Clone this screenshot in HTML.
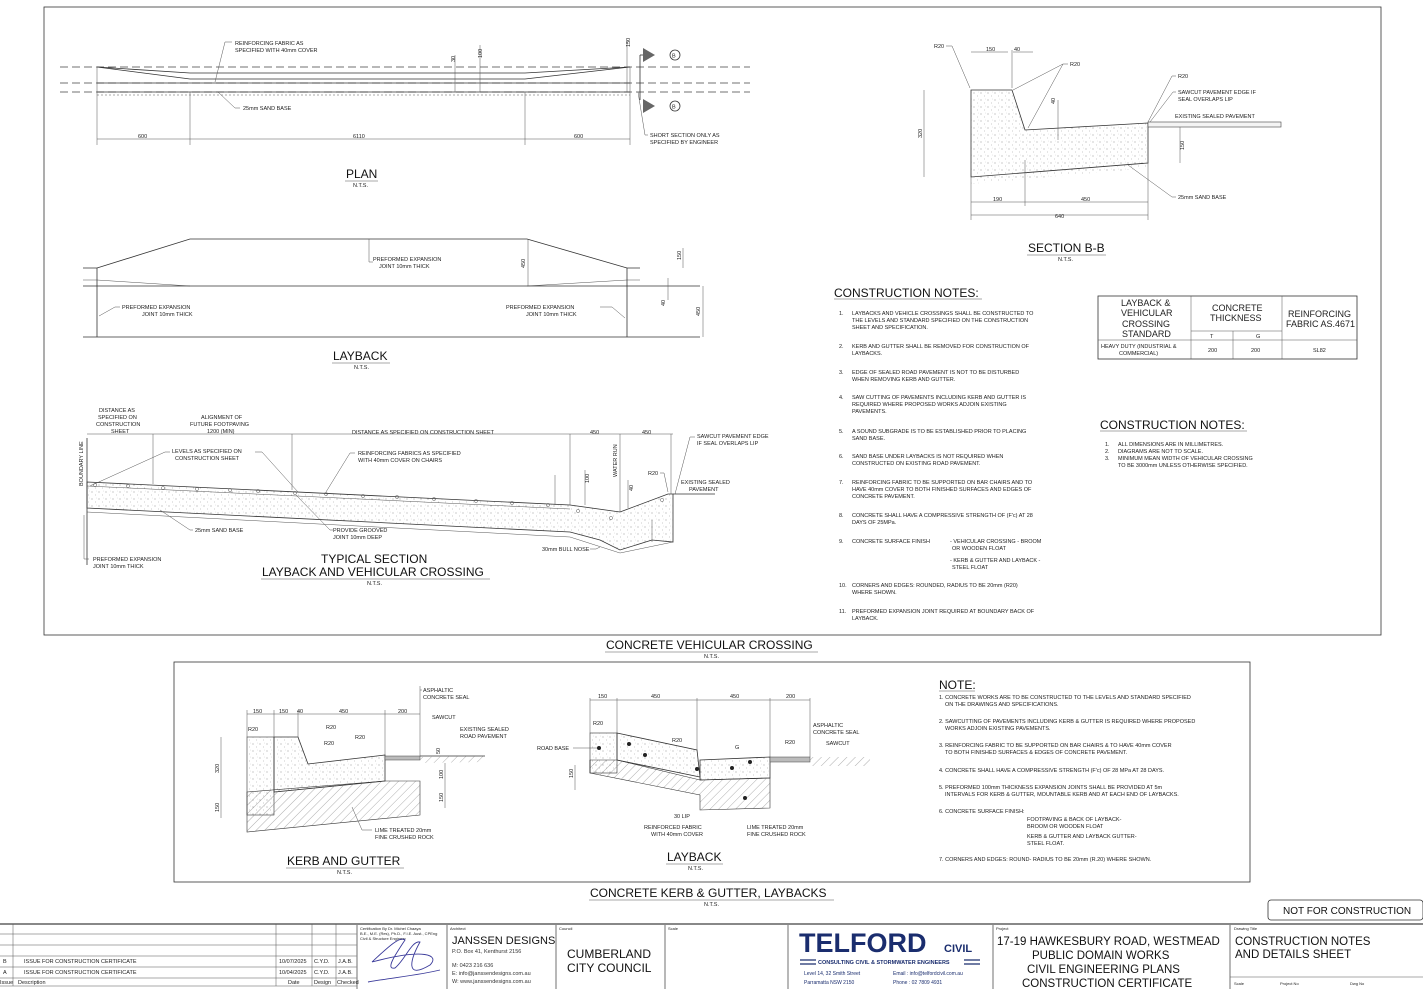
<!DOCTYPE html>
<html><head><meta charset="utf-8"><style>
html,body{margin:0;padding:0;background:#fff;}
svg{display:block;font-family:"Liberation Sans",sans-serif;}
.t{font-size:6px;fill:#222}
.s{font-size:5.5px;fill:#222}
.h{font-size:12px;fill:#111}
.ln{stroke:#333;stroke-width:0.8;fill:none}
.tn{stroke:#555;stroke-width:0.5;fill:none}
.dash{stroke:#444;stroke-width:0.8;stroke-dasharray:8 4;fill:none}
</style></head><body>
<svg width="1423" height="989" viewBox="0 0 1423 989" xmlns="http://www.w3.org/2000/svg">
<defs>
<pattern id="dots" width="7" height="7" patternUnits="userSpaceOnUse"><circle cx="1" cy="2" r="0.5" fill="#777"/><circle cx="4.5" cy="5" r="0.4" fill="#888"/><circle cx="5.5" cy="1" r="0.3" fill="#999"/></pattern>
<pattern id="hatch" width="6" height="6" patternUnits="userSpaceOnUse" patternTransform="rotate(45)"><line x1="0" y1="0" x2="0" y2="6" stroke="#777" stroke-width="0.6"/></pattern>
</defs>
<rect width="1423" height="989" fill="#fff"/>
<!-- frames -->
<rect x="44" y="7" width="1337" height="628" class="ln"/>
<rect x="174" y="662" width="1076" height="220" class="ln"/>

<!-- PLAN -->
<g>
<line x1="60" y1="67" x2="750" y2="67" class="dash"/>
<line x1="60" y1="83" x2="750" y2="83" class="dash"/>
<line x1="60" y1="92" x2="750" y2="92" class="dash"/>
<polyline points="97,67 190,73 525,73 630,67" class="ln"/>
<polyline points="97,67 190,79 525,79 630,67" class="ln"/>
<line x1="97" y1="83" x2="630" y2="83" class="ln"/>
<line x1="97" y1="92" x2="630" y2="92" class="ln"/>
<line x1="97" y1="95" x2="630" y2="95" class="tn" stroke-dasharray="2 2"/>
<line x1="97" y1="67" x2="97" y2="145" class="tn"/>
<line x1="190" y1="92" x2="190" y2="145" class="tn"/>
<line x1="525" y1="92" x2="525" y2="145" class="tn"/>
<line x1="630" y1="67" x2="630" y2="145" class="tn"/>
<line x1="97" y1="139" x2="630" y2="139" class="tn"/>
<text x="138" y="138" class="s">600</text><text x="353" y="138" class="s">6110</text><text x="574" y="138" class="s">600</text>
<line x1="455" y1="55" x2="455" y2="92" class="tn"/><line x1="480" y1="45" x2="480" y2="92" class="tn"/>
<text x="455" y="62" class="s" transform="rotate(-90 455 62)">30</text>
<text x="482" y="58" class="s" transform="rotate(-90 482 58)">100</text>
<line x1="627" y1="40" x2="627" y2="92" class="tn"/><text x="630" y="47" class="s" transform="rotate(-90 630 47)">150</text>
<polyline points="640,55 640,100" class="ln"/>
<path d="M643,48 L655,55 L643,62Z" fill="#666"/><line x1="640" y1="55" x2="643" y2="55" class="ln"/>
<path d="M643,99 L655,106 L643,113Z" fill="#666"/>
<circle cx="675" cy="55" r="5" class="ln"/><text x="672" y="57.5" class="s">B</text>
<circle cx="675" cy="106" r="5" class="ln"/><text x="672" y="108.5" class="s">B</text>
<polyline points="215,82 225,42 232,42" class="tn"/>
<text x="235" y="45" class="s">REINFORCING FABRIC AS</text><text x="235" y="52" class="s">SPECIFIED WITH 40mm COVER</text>
<polyline points="218,92 235,108 240,108" class="tn"/><text x="243" y="110" class="s">25mm SAND BASE</text>
<polyline points="638,92 645,135 648,135" class="tn"/>
<text x="650" y="137" class="s">SHORT SECTION ONLY AS</text><text x="650" y="144" class="s">SPECIFIED BY ENGINEER</text>
<text x="346" y="178" class="h">PLAN</text><line x1="345" y1="181" x2="378" y2="181" class="tn"/>
<text x="353" y="187" class="s">N.T.S.</text>
</g>

<!-- LAYBACK -->
<g>
<polyline points="83,268 97,268 190,239 527,239 627,268 640,268" class="ln"/>
<polyline points="83,280 97,280 190,286" class="tn"/><polyline points="527,286 627,280 640,280" class="tn"/>
<line x1="83" y1="286" x2="700" y2="286" class="ln"/>
<line x1="83" y1="337" x2="700" y2="337" class="ln"/>
<line x1="97" y1="268" x2="97" y2="337" class="ln"/><line x1="627" y1="268" x2="627" y2="337" class="ln"/>
<line x1="528" y1="239" x2="528" y2="286" class="tn"/><text x="525" y="268" class="s" transform="rotate(-90 525 268)">450</text>
<line x1="683" y1="248" x2="683" y2="268" class="tn"/><text x="681" y="260" class="s" transform="rotate(-90 681 260)">150</text>
<line x1="668" y1="278" x2="668" y2="300" class="tn"/><text x="665" y="306" class="s" transform="rotate(-90 665 306)">40</text>
<line x1="703" y1="286" x2="703" y2="337" class="tn"/><text x="700" y="316" class="s" transform="rotate(-90 700 316)">450</text>
<polyline points="369,239 369,262 373,262" class="tn"/>
<text x="373" y="261" class="s">PREFORMED EXPANSION</text><text x="379" y="268" class="s">JOINT 10mm THICK</text>
<polyline points="99,316 115,307 120,307" class="tn"/>
<text x="122" y="309" class="s">PREFORMED EXPANSION</text><text x="142" y="316" class="s">JOINT 10mm THICK</text>
<polyline points="625,318 612,307 600,307" class="tn"/>
<text x="506" y="309" class="s">PREFORMED EXPANSION</text><text x="526" y="316" class="s">JOINT 10mm THICK</text>
<text x="333" y="360" class="h">LAYBACK</text><line x1="332" y1="363" x2="390" y2="363" class="tn"/>
<text x="354" y="369" class="s">N.T.S.</text>
</g>

<!-- TYPICAL SECTION -->
<g>
<path d="M87,482 L570,505 L620,512 L668,494 L673,494 L673,542 L652,540 L620,550 L600,540 L570,532 L87,508Z" fill="url(#dots)" stroke="#333" stroke-width="0.8"/>
<polyline points="87,486 570,509" class="tn"/>
<polyline points="87,512 570,537 620,553 673,542" class="tn"/>
<line x1="87" y1="438" x2="87" y2="565" class="ln"/>
<text x="83" y="486" class="s" transform="rotate(-90 83 486)">BOUNDARY LINE</text>
<line x1="87" y1="434" x2="673" y2="434" class="tn"/>
<line x1="153" y1="434" x2="153" y2="484" class="tn"/><line x1="292" y1="434" x2="292" y2="490" class="tn"/>
<line x1="570" y1="434" x2="570" y2="505" class="tn"/><line x1="620" y1="434" x2="620" y2="512" class="tn"/><line x1="671" y1="434" x2="671" y2="494" class="tn"/>
<text x="99" y="412" class="s">DISTANCE AS</text><text x="98" y="419" class="s">SPECIFIED ON</text><text x="96" y="426" class="s">CONSTRUCTION</text><text x="111" y="433" class="s">SHEET</text>
<text x="201" y="419" class="s">ALIGNMENT OF</text><text x="190" y="426" class="s">FUTURE FOOTPAVING</text><text x="207" y="433" class="s">1200 (MIN)</text>
<text x="352" y="434" class="s">DISTANCE AS SPECIFIED ON CONSTRUCTION SHEET</text>
<text x="590" y="434" class="s">450</text><text x="642" y="434" class="s">450</text>
<text x="617" y="477" class="s" transform="rotate(-90 617 477)">WATER RUN</text>
<polyline points="90,486 165,452 170,452" class="tn"/><text x="172" y="453" class="s">LEVELS AS SPECIFIED ON</text><text x="175" y="460" class="s">CONSTRUCTION SHEET</text>
<polyline points="255,452 262,452 298,492" class="tn"/>
<polyline points="326,492 350,453 355,453" class="tn"/><text x="358" y="455" class="s">REINFORCING FABRICS AS SPECIFIED</text><text x="358" y="462" class="s">WITH 40mm COVER ON CHAIRS</text>
<polyline points="160,510 190,530 193,530" class="tn"/><text x="195" y="532" class="s">25mm SAND BASE</text>
<polyline points="296,495 330,530 333,530" class="tn"/><text x="333" y="532" class="s">PROVIDE GROOVED</text><text x="333" y="539" class="s">JOINT 10mm DEEP</text>
<polyline points="84,515 84,559 89,559" class="tn"/><text x="93" y="561" class="s">PREFORMED EXPANSION</text><text x="93" y="568" class="s">JOINT 10mm THICK</text>
<polyline points="600,547 596,549 590,549" class="tn"/><text x="542" y="551" class="s">30mm BULL NOSE</text>
<polyline points="675,494 690,437 695,437" class="tn"/><text x="697" y="438" class="s">SAWCUT PAVEMENT EDGE</text><text x="697" y="445" class="s">IF SEAL OVERLAPS LIP</text>
<text x="648" y="475" class="s">R20</text><polyline points="660,473 664,473 668,492" class="tn"/>
<text x="681" y="484" class="s">EXISTING SEALED</text><text x="689" y="491" class="s">PAVEMENT</text>
<line x1="673" y1="494" x2="715" y2="494" class="ln"/>
<line x1="555" y1="475" x2="555" y2="505" class="tn"/><line x1="585" y1="470" x2="585" y2="505" class="tn"/><line x1="628" y1="480" x2="628" y2="508" class="tn"/><line x1="652" y1="520" x2="652" y2="542" class="tn"/>
<text x="589" y="483" class="s" transform="rotate(-90 589 483)">100</text><text x="633" y="491" class="s" transform="rotate(-90 633 491)">40</text>
<g fill="none" stroke="#555" stroke-width="0.5">
<circle cx="95" cy="485" r="1.6"/><circle cx="128" cy="486" r="1.6"/><circle cx="163" cy="488" r="1.6"/><circle cx="197" cy="489" r="1.6"/><circle cx="230" cy="490" r="1.6"/><circle cx="258" cy="491" r="1.6"/><circle cx="295" cy="493" r="1.6"/><circle cx="326" cy="494" r="1.6"/><circle cx="363" cy="496" r="1.6"/><circle cx="397" cy="497" r="1.6"/><circle cx="434" cy="499" r="1.6"/><circle cx="476" cy="501" r="1.6"/><circle cx="512" cy="503" r="1.6"/><circle cx="548" cy="505" r="1.6"/><circle cx="578" cy="511" r="1.6"/><circle cx="611" cy="518" r="1.6"/><circle cx="662" cy="500" r="1.6"/>
</g>
<text x="321" y="563" class="h">TYPICAL SECTION</text>
<text x="262" y="576" class="h">LAYBACK AND VEHICULAR CROSSING</text><line x1="261" y1="579" x2="490" y2="579" class="tn"/>
<text x="367" y="585" class="s">N.T.S.</text>
</g>

<!-- SECTION B-B -->
<g>
<path d="M971,90 L1012,90 L1025,130 L1148,123 L1148,163 L971,177Z" fill="url(#dots)" stroke="#333" stroke-width="0.8"/>
<path d="M971,177 L1148,163 L1148,168 L971,184Z" fill="url(#dots)" stroke="none"/>
<rect x="1148" y="122" width="133" height="5" fill="#f4f4f4" stroke="#444" stroke-width="0.6"/>
<line x1="971" y1="173" x2="971" y2="220" class="tn"/><line x1="1025" y1="160" x2="1025" y2="206" class="tn"/><line x1="1148" y1="163" x2="1148" y2="220" class="tn"/>
<line x1="971" y1="202" x2="1148" y2="202" class="tn"/><line x1="971" y1="215" x2="1148" y2="215" class="tn"/>
<text x="993" y="201" class="s">190</text><text x="1081" y="201" class="s">450</text><text x="1055" y="218" class="s">640</text>
<line x1="971" y1="52" x2="1008" y2="52" class="tn"/><line x1="1013" y1="52" x2="1033" y2="52" class="tn"/><line x1="1012" y1="50" x2="1012" y2="88" class="tn"/>
<text x="986" y="51" class="s">150</text><text x="1014" y="51" class="s">40</text>
<line x1="924" y1="90" x2="924" y2="177" class="tn"/><text x="922" y="138" class="s" transform="rotate(-90 922 138)">320</text>
<line x1="1180" y1="127" x2="1180" y2="163" class="tn"/><text x="1184" y="150" class="s" transform="rotate(-90 1184 150)">150</text>
<text x="1055" y="104" class="s" transform="rotate(-90 1055 104)">40</text><line x1="1058" y1="100" x2="1058" y2="140" class="tn"/>
<text x="934" y="48" class="s">R20</text><polyline points="946,46 952,46 970,88" class="tn"/>
<text x="1070" y="66" class="s">R20</text><polyline points="1068,64 1063,64 1013,90" class="tn"/><line x1="1063" y1="64" x2="1028" y2="128" class="tn"/>
<text x="1178" y="78" class="s">R20</text><polyline points="1176,76 1172,76 1148,122" class="tn"/>
<text x="1178" y="94" class="s">SAWCUT PAVEMENT EDGE IF</text><text x="1178" y="101" class="s">SEAL OVERLAPS LIP</text><polyline points="1176,92 1173,92 1150,122" class="tn"/>
<text x="1175" y="118" class="s">EXISTING SEALED PAVEMENT</text>
<text x="1178" y="199" class="s">25mm SAND BASE</text><polyline points="1176,197 1172,197 1128,165" class="tn"/>
<text x="1028" y="252" class="h">SECTION B-B</text><line x1="1027" y1="255" x2="1106" y2="255" class="tn"/>
<text x="1058" y="261" class="s">N.T.S.</text>
</g>

<!-- CONSTRUCTION NOTES left -->
<g>
<text x="834" y="297" style="font-size:12px;fill:#111">CONSTRUCTION NOTES:</text><line x1="834" y1="299" x2="982" y2="299" class="tn"/>
<g class="s">
<text x="839" y="315">1.</text><text x="852" y="315">LAYBACKS AND VEHICLE CROSSINGS SHALL BE CONSTRUCTED TO</text><text x="852" y="322">THE LEVELS AND STANDARD SPECIFIED ON THE CONSTRUCTION</text><text x="852" y="329">SHEET AND SPECIFICATION.</text>
<text x="839" y="348">2.</text><text x="852" y="348">KERB AND GUTTER SHALL BE REMOVED FOR CONSTRUCTION OF</text><text x="852" y="355">LAYBACKS.</text>
<text x="839" y="374">3.</text><text x="852" y="374">EDGE OF SEALED ROAD PAVEMENT IS NOT TO BE DISTURBED</text><text x="852" y="381">WHEN REMOVING KERB AND GUTTER.</text>
<text x="839" y="399">4.</text><text x="852" y="399">SAW CUTTING OF PAVEMENTS INCLUDING KERB AND GUTTER IS</text><text x="852" y="406">REQUIRED WHERE PROPOSED WORKS ADJOIN EXISTING</text><text x="852" y="413">PAVEMENTS.</text>
<text x="839" y="433">5.</text><text x="852" y="433">A SOUND SUBGRADE IS TO BE ESTABLISHED PRIOR TO PLACING</text><text x="852" y="440">SAND BASE.</text>
<text x="839" y="458">6.</text><text x="852" y="458">SAND BASE UNDER LAYBACKS IS NOT REQUIRED WHEN</text><text x="852" y="465">CONSTRUCTED ON EXISTING ROAD PAVEMENT.</text>
<text x="839" y="484">7.</text><text x="852" y="484">REINFORCING FABRIC TO BE SUPPORTED ON BAR CHAIRS AND TO</text><text x="852" y="491">HAVE 40mm COVER TO BOTH FINISHED SURFACES AND EDGES OF</text><text x="852" y="498">CONCRETE PAVEMENT.</text>
<text x="839" y="517">8.</text><text x="852" y="517">CONCRETE SHALL HAVE A COMPRESSIVE STRENGTH OF (F'c) AT 28</text><text x="852" y="524">DAYS OF 25MPa.</text>
<text x="839" y="543">9.</text><text x="852" y="543">CONCRETE SURFACE FINISH</text><text x="950" y="543">- VEHICULAR CROSSING - BROOM</text><text x="952" y="550">OR WOODEN FLOAT</text><text x="950" y="562">- KERB &amp; GUTTER AND LAYBACK -</text><text x="952" y="569">STEEL FLOAT</text>
<text x="839" y="587">10.</text><text x="852" y="587">CORNERS AND EDGES: ROUNDED, RADIUS TO BE 20mm (R20)</text><text x="852" y="594">WHERE SHOWN.</text>
<text x="839" y="613">11.</text><text x="852" y="613">PREFORMED EXPANSION JOINT REQUIRED AT BOUNDARY BACK OF</text><text x="852" y="620">LAYBACK.</text>
</g>
</g>

<!-- table -->
<g>
<rect x="1098" y="296" width="259" height="63" class="ln"/>
<line x1="1191" y1="296" x2="1191" y2="359" class="tn"/><line x1="1282" y1="296" x2="1282" y2="359" class="tn"/>
<line x1="1191" y1="331" x2="1282" y2="331" class="tn"/><line x1="1233" y1="331" x2="1233" y2="359" class="tn"/>
<line x1="1098" y1="340" x2="1357" y2="340" class="tn"/>
<g style="font-size:9px;fill:#222">
<text x="1121" y="306">LAYBACK &amp;</text><text x="1121" y="316">VEHICULAR</text><text x="1122" y="327">CROSSING</text><text x="1122" y="337">STANDARD</text>
<text x="1212" y="311">CONCRETE</text><text x="1210" y="321">THICKNESS</text>
<text x="1288" y="317">REINFORCING</text><text x="1286" y="327">FABRIC AS.4671</text>
</g>
<text x="1210" y="338" class="s">T</text><text x="1256" y="338" class="s">G</text>
<text x="1101" y="348" class="s">HEAVY DUTY (INDUSTRIAL &amp;</text><text x="1119" y="355" class="s">COMMERCIAL)</text>
<text x="1208" y="352" class="s">200</text><text x="1251" y="352" class="s">200</text><text x="1313" y="352" class="s">SL82</text>
</g>
<text x="1100" y="429" style="font-size:12px;fill:#111">CONSTRUCTION NOTES:</text><line x1="1100" y1="431" x2="1247" y2="431" class="tn"/>
<g class="s"><text x="1105" y="446">1.</text><text x="1118" y="446">ALL DIMENSIONS ARE IN MILLIMETRES.</text>
<text x="1105" y="453">2.</text><text x="1118" y="453">DIAGRAMS ARE NOT TO SCALE.</text>
<text x="1105" y="460">3.</text><text x="1118" y="460">MINIMUM MEAN WIDTH OF VEHICULAR CROSSING</text><text x="1118" y="467">TO BE 3000mm UNLESS OTHERWISE SPECIFIED.</text></g>

<text x="606" y="649" class="h">CONCRETE VEHICULAR CROSSING</text><line x1="605" y1="652" x2="818" y2="652" class="tn"/>
<text x="704" y="658" class="s">N.T.S.</text>

<!-- KERB AND GUTTER -->
<g>
<path d="M247,758 L246,758 L247,838 L390,823 L390,793 L415,793 L415,760 L415,777 Z" fill="none"/>
<rect x="247" y="737" width="27" height="78" fill="url(#dots)" stroke="#333" stroke-width="0.6"/>
<path d="M274,737 L298,737 L308,764 L385,755 L385,781 L274,792Z" fill="url(#dots)" stroke="#333" stroke-width="0.8"/>
<path d="M247,792 L385,781 L420,781 L420,815 L247,832Z" fill="url(#hatch)" stroke="#333" stroke-width="0.6"/>
<rect x="385" y="756" width="35" height="4" fill="#bbb" stroke="#444" stroke-width="0.5"/>
<path d="M420,757 L485,756 L485,762 L420,763Z" fill="url(#hatch)"/>
<line x1="420" y1="756" x2="485" y2="756" class="ln"/>
<line x1="247" y1="714" x2="420" y2="714" class="tn"/>
<line x1="247" y1="710" x2="247" y2="737" class="tn"/><line x1="274" y1="710" x2="274" y2="737" class="tn"/><line x1="298" y1="710" x2="298" y2="737" class="tn"/><line x1="385" y1="710" x2="385" y2="756" class="tn"/><line x1="420" y1="686" x2="420" y2="756" class="tn"/>
<text x="253" y="713" class="s">150</text><text x="279" y="713" class="s">150</text><text x="297" y="713" class="s">40</text><text x="339" y="713" class="s">450</text><text x="398" y="713" class="s">200</text>
<text x="248" y="731" class="s">R20</text><text x="326" y="729" class="s">R20</text><text x="324" y="745" class="s">R20</text><text x="355" y="739" class="s">R20</text>
<line x1="221" y1="737" x2="221" y2="818" class="tn"/><text x="219" y="773" class="s" transform="rotate(-90 219 773)">320</text><text x="219" y="812" class="s" transform="rotate(-90 219 812)">150</text>
<line x1="445" y1="763" x2="445" y2="808" class="tn"/><text x="443" y="779" class="s" transform="rotate(-90 443 779)">100</text><text x="443" y="802" class="s" transform="rotate(-90 443 802)">150</text>
<text x="440" y="754" class="s" transform="rotate(-90 440 754)">50</text>
<polyline points="420,690 422,690" class="tn"/><text x="423" y="692" class="s">ASPHALTIC</text><text x="423" y="699" class="s">CONCRETE SEAL</text>
<text x="432" y="719" class="s">SAWCUT</text>
<text x="460" y="731" class="s">EXISTING SEALED</text><text x="460" y="738" class="s">ROAD PAVEMENT</text>
<polyline points="352,807 362,830 372,830" class="tn"/><text x="375" y="832" class="s">LIME TREATED 20mm</text><text x="375" y="839" class="s">FINE CRUSHED ROCK</text>
<text x="287" y="865" class="h">KERB AND GUTTER</text><line x1="286" y1="868" x2="404" y2="868" class="tn"/><text x="337" y="874" class="s">N.T.S.</text>
</g>

<!-- LAYBACK lower -->
<g>
<rect x="590" y="733" width="27" height="40" fill="url(#dots)" stroke="#333" stroke-width="0.6"/>
<path d="M617,733 L697,750 L700,777 L617,760Z" fill="url(#dots)" stroke="#333" stroke-width="0.8"/>
<path d="M700,760 L770,757 L770,778 L700,780Z" fill="url(#dots)" stroke="#333" stroke-width="0.8"/>
<path d="M590,773 L700,795 L700,810 L770,808 L770,778 L700,780 L617,760 L590,760Z" fill="url(#hatch)" stroke="#333" stroke-width="0.6"/>
<path d="M590,760 L590,773" class="ln"/>
<rect x="770" y="757" width="40" height="5" fill="#bbb" stroke="#444" stroke-width="0.5"/>
<path d="M810,757 L870,757 L870,766 L810,766Z" fill="url(#hatch)"/>
<line x1="590" y1="700" x2="810" y2="700" class="tn"/>
<line x1="590" y1="698" x2="590" y2="733" class="tn"/><line x1="617" y1="698" x2="617" y2="733" class="tn"/><line x1="697" y1="698" x2="697" y2="750" class="tn"/><line x1="770" y1="698" x2="770" y2="757" class="tn"/><line x1="810" y1="698" x2="810" y2="757" class="tn"/>
<text x="598" y="698" class="s">150</text><text x="651" y="698" class="s">450</text><text x="730" y="698" class="s">450</text><text x="786" y="698" class="s">200</text>
<text x="593" y="725" class="s">R20</text><text x="672" y="742" class="s">R20</text><text x="785" y="744" class="s">R20</text>
<text x="735" y="749" class="s">G</text>
<line x1="575" y1="765" x2="575" y2="790" class="tn"/><text x="573" y="778" class="s" transform="rotate(-90 573 778)">150</text>
<text x="537" y="750" class="s">ROAD BASE</text><line x1="573" y1="748" x2="598" y2="748" class="tn"/>
<circle cx="599" cy="748" r="2" fill="#222"/><circle cx="645" cy="755" r="2" fill="#222"/><circle cx="697" cy="769" r="2" fill="#222"/><circle cx="732" cy="768" r="2" fill="#222"/><circle cx="750" cy="762" r="2" fill="#222"/><circle cx="745" cy="798" r="2" fill="#222"/><circle cx="629" cy="744" r="2" fill="#222"/>
<text x="813" y="727" class="s">ASPHALTIC</text><text x="813" y="734" class="s">CONCRETE SEAL</text><text x="826" y="745" class="s">SAWCUT</text>
<text x="674" y="818" class="s">30 LIP</text>
<text x="644" y="829" class="s">REINFORCED FABRIC</text><text x="651" y="836" class="s">WITH 40mm COVER</text>
<text x="747" y="829" class="s">LIME TREATED 20mm</text><text x="747" y="836" class="s">FINE CRUSHED ROCK</text>
<text x="667" y="861" class="h">LAYBACK</text><line x1="666" y1="864" x2="723" y2="864" class="tn"/><text x="688" y="870" class="s">N.T.S.</text>
</g>

<!-- NOTE -->
<text x="939" y="689" style="font-size:12px;fill:#111">NOTE:</text><line x1="939" y1="691" x2="975" y2="691" class="tn"/>
<g class="s">
<text x="939" y="699">1. CONCRETE WORKS ARE TO BE CONSTRUCTED TO THE LEVELS AND STANDARD SPECIFIED</text><text x="945" y="706">ON THE DRAWINGS AND SPECIFICATIONS.</text>
<text x="939" y="723">2. SAWCUTTING OF PAVEMENTS INCLUDING KERB &amp; GUTTER IS REQUIRED WHERE PROPOSED</text><text x="945" y="730">WORKS ADJOIN EXISTING PAVEMENTS.</text>
<text x="939" y="747">3. REINFORCING FABRIC TO BE SUPPORTED ON BAR CHAIRS &amp; TO HAVE 40mm COVER</text><text x="945" y="754">TO BOTH FINISHED SURFACES &amp; EDGES OF CONCRETE PAVEMENT.</text>
<text x="939" y="772">4. CONCRETE SHALL HAVE A COMPRESSIVE STRENGTH (F'c) OF 28 MPa  AT 28 DAYS.</text>
<text x="939" y="789">5. PREFORMED 100mm THICKNESS EXPANSION JOINTS SHALL BE PROVIDED AT 5m</text><text x="945" y="796">INTERVALS  FOR KERB &amp; GUTTER, MOUNTABLE KERB AND AT EACH END OF LAYBACKS.</text>
<text x="939" y="813">6. CONCRETE SURFACE FINISH:</text>
<text x="1027" y="821">FOOTPAVING &amp; BACK OF LAYBACK-</text><text x="1027" y="828">BROOM OR WOODEN FLOAT</text>
<text x="1027" y="838">KERB &amp; GUTTER AND LAYBACK GUTTER-</text><text x="1027" y="845">STEEL FLOAT.</text>
<text x="939" y="861">7. CORNERS AND EDGES: ROUND- RADIUS TO BE 20mm (R.20) WHERE SHOWN.</text>
</g>

<text x="590" y="897" class="h">CONCRETE KERB &amp; GUTTER, LAYBACKS</text><line x1="589" y1="900" x2="834" y2="900" class="tn"/>
<text x="704" y="906" class="s">N.T.S.</text>

<!-- NOT FOR CONSTRUCTION -->
<rect x="1268" y="900" width="155" height="20" rx="3" class="ln"/>
<text x="1283" y="914" style="font-size:10px;fill:#111">NOT FOR CONSTRUCTION</text>

<!-- Title block -->
<g>
<line x1="0" y1="924" x2="1423" y2="924" stroke="#888" stroke-width="2"/>
<g class="tn">
<line x1="0" y1="934" x2="357" y2="934"/><line x1="0" y1="945" x2="357" y2="945"/><line x1="0" y1="956" x2="357" y2="956"/><line x1="0" y1="967" x2="357" y2="967"/><line x1="0" y1="978" x2="357" y2="978"/><line x1="0" y1="986" x2="357" y2="986"/>
<line x1="13" y1="924" x2="13" y2="986"/><line x1="276" y1="924" x2="276" y2="986"/><line x1="312" y1="924" x2="312" y2="986"/><line x1="336" y1="924" x2="336" y2="986"/>
</g>
<g stroke="#888" stroke-width="1.2"><line x1="357" y1="924" x2="357" y2="989"/><line x1="447" y1="924" x2="447" y2="989"/><line x1="556" y1="924" x2="556" y2="989"/><line x1="665" y1="924" x2="665" y2="989"/><line x1="788" y1="924" x2="788" y2="989"/><line x1="993" y1="924" x2="993" y2="989"/><line x1="1230" y1="924" x2="1230" y2="989"/></g>
<line x1="1230" y1="977" x2="1423" y2="977" class="tn"/>
<g style="font-size:5.5px;fill:#222">
<text x="3" y="963">B</text><text x="24" y="963">ISSUE FOR CONSTRUCTION CERTIFICATE</text><text x="279" y="963">10/07/2025</text><text x="314" y="963">C.Y.D.</text><text x="338" y="963">J.A.B.</text>
<text x="3" y="974">A</text><text x="24" y="974">ISSUE FOR CONSTRUCTION CERTIFICATE</text><text x="279" y="974">10/04/2025</text><text x="314" y="974">C.Y.D.</text><text x="338" y="974">J.A.B.</text>
<text x="0" y="984">Issue</text><text x="18" y="984">Description</text><text x="288" y="984">Date</text><text x="314" y="984">Design</text><text x="337" y="984">Checked</text>
<text x="360" y="930" style="font-size:4px">Certification By Dr. Michel Chaaya</text><text x="360" y="935" style="font-size:4px">B.E., M.E. (Res), Ph.D., F.I.E. Aust., CPEng</text><text x="360" y="940" style="font-size:4px">Civil &amp; Structure Engineer</text>
<text x="450" y="930" style="font-size:4px">Architect</text><text x="559" y="930" style="font-size:4px">Council</text><text x="668" y="930" style="font-size:4px">Scale</text><text x="996" y="930" style="font-size:4px">Project</text><text x="1234" y="930" style="font-size:4px">Drawing Title</text>
<text x="1234" y="985" style="font-size:4px">Scale</text><text x="1280" y="985" style="font-size:4px">Project No</text><text x="1350" y="985" style="font-size:4px">Dwg No</text>
</g>
<path d="M372,962 C385,950 400,935 405,940 C395,955 385,970 395,968 C405,960 412,940 420,942 C410,960 405,980 430,965 C440,955 425,948 372,962" fill="none" stroke="#3a3a9a" stroke-width="0.9"/>
<path d="M368,982 C390,978 420,975 440,970" fill="none" stroke="#3a3a9a" stroke-width="0.9"/>
<text x="452" y="944" style="font-size:11px;fill:#111">JANSSEN DESIGNS</text>
<text x="452" y="953" style="font-size:5.5px;fill:#333">P.O. Box 41, Kenthurst 2156</text>
<text x="452" y="967" style="font-size:5.5px;fill:#333">M: 0423 216 636</text><text x="452" y="975" style="font-size:5.5px;fill:#333">E: info@janssendesigns.com.au</text><text x="452" y="983" style="font-size:5.5px;fill:#333">W: www.janssendesigns.com.au</text>
<text x="567" y="958" style="font-size:12px;fill:#111">CUMBERLAND</text><text x="567" y="972" style="font-size:12px;fill:#111">CITY COUNCIL</text>
<text x="799" y="952" style="font-size:27px;font-weight:bold;fill:#1a2d6e">TELFORD</text><text x="944" y="952" style="font-size:11px;font-weight:bold;fill:#1a2d6e">CIVIL</text>
<line x1="800" y1="960" x2="980" y2="960" stroke="#1a2d6e" stroke-width="1.2"/><line x1="800" y1="964" x2="980" y2="964" stroke="#1a2d6e" stroke-width="1.2"/>
<rect x="816" y="958" width="148" height="8" fill="#fff"/>
<text x="818" y="964" style="font-size:5.5px;font-weight:bold;fill:#1a2d6e">CONSULTING CIVIL &amp; STORMWATER ENGINEERS</text>
<text x="804" y="975" style="font-size:5px;fill:#1a2d6e">Level 14, 32 Smith Street</text><text x="804" y="984" style="font-size:5px;fill:#1a2d6e">Parramatta NSW 2150</text>
<text x="893" y="975" style="font-size:5px;fill:#1a2d6e">Email : info@telfordcivil.com.au</text><text x="893" y="984" style="font-size:5px;fill:#1a2d6e">Phone : 02 7809 4931</text>
<g style="font-size:11.5px;fill:#111">
<text x="997" y="945">17-19 HAWKESBURY ROAD, WESTMEAD</text>
<text x="1032" y="959">PUBLIC DOMAIN WORKS</text>
<text x="1027" y="973">CIVIL ENGINEERING PLANS</text>
<text x="1022" y="987">CONSTRUCTION CERTIFICATE</text>
<text x="1235" y="945">CONSTRUCTION NOTES</text><text x="1235" y="958">AND DETAILS SHEET</text>
</g>
</g>
</svg>
</body></html>
